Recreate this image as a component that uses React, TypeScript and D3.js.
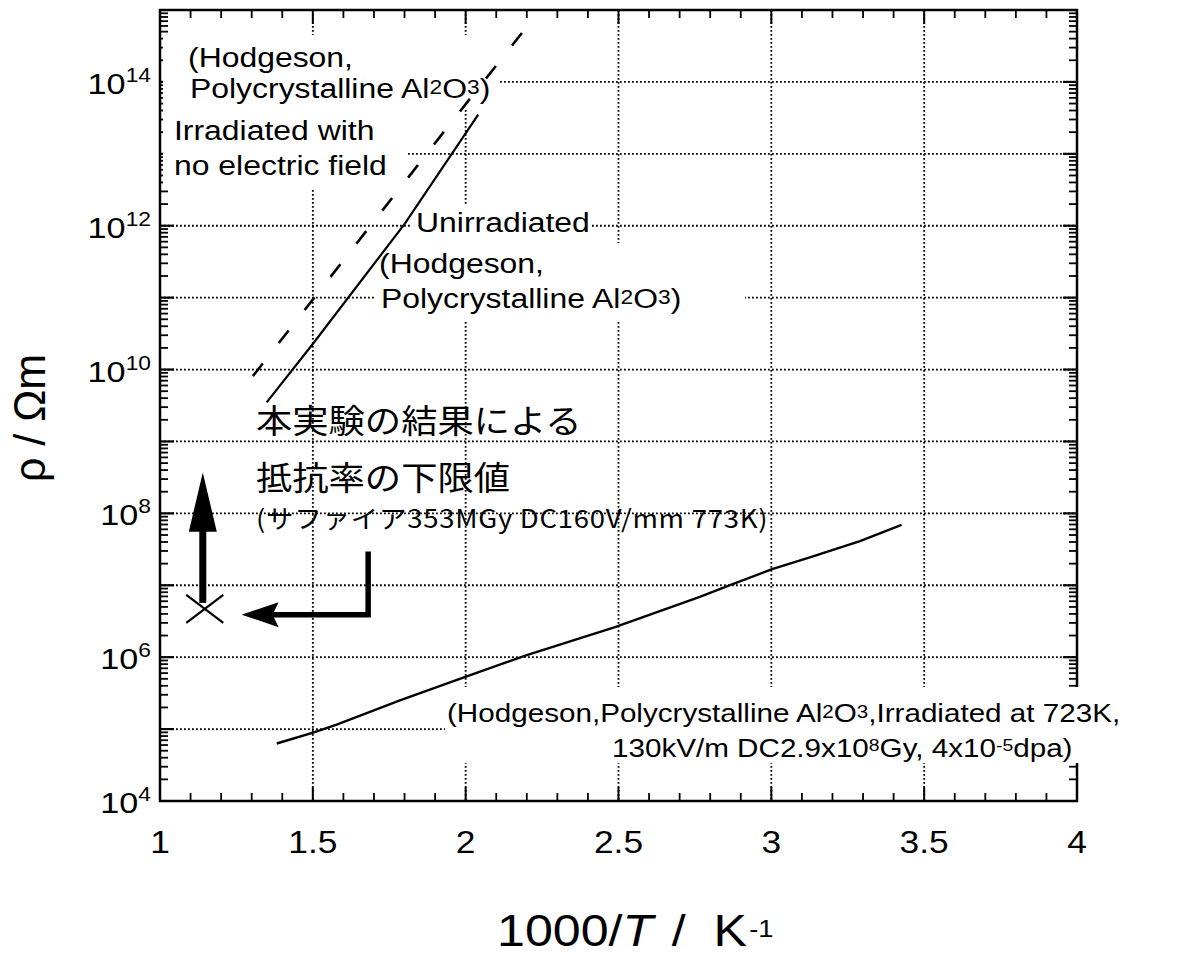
import React from 'react';
import * as d3 from 'd3';

const W = 1196;
const H = 957;

// axes
const X_DOMAIN: [number, number] = [1, 4];
const Y_DOMAIN: [number, number] = [1e4, 1e15];
const xTickValues = [1, 1.5, 2, 2.5, 3, 3.5, 4];
const xTickLabels = ['1', '1.5', '2', '2.5', '3', '3.5', '4'];
const yTickExponents = [4, 6, 8, 10, 12, 14];
const gridX = [1.5, 2, 2.5, 3, 3.5];
const gridYExponents = [5, 6, 7, 8, 9, 10, 11, 12, 13, 14];

// series: Hodgeson, polycrystalline Al2O3, irradiated with no electric field (dashed)
const irradNoFieldX = [1.304, 1.939, 2.235];
const irradNoFieldRho = [8.1e9, 2.3e13, 9.0e14];
// series: unirradiated
const unirradX = [1.349, 1.501, 1.801, 2.041];
const unirradRho = [3.5e9, 2.3e10, 1.07e12, 3.5e13];
// series: irradiated at 723K, 130kV/m
const irrad723X = [1.382, 1.501, 1.578, 1.785, 1.992, 2.2, 2.486, 2.766, 2.85, 3.0, 3.126, 3.29, 3.426];
const irrad723Rho = [6.3e4, 8.9e4, 1.15e5, 2.5e5, 5.2e5, 1.07e6, 2.6e6, 6.9e6, 9.5e6, 1.66e7, 2.45e7, 4.1e7, 6.9e7];
// this experiment: lower limit of resistivity
const lowerLimitX = [1.14];
const lowerLimitRho = [4.7e6];
const lowerArrowTipRho = [3.7e8];
const lowerArrowBaseRho = [5.9e7];
const pointerX = [1.681, 1.267];
const pointerRho = [3.9e6, 2.95e7];

const FONT = '"Liberation Sans", Arial, Helvetica, sans-serif';
const JFONT = '"Noto Sans CJK JP", "Noto Sans CJK SC", sans-serif';
const SX = 1.14;

const left = 160, right = 1077, top = 10, bottom = 801;

const T: React.FC<{ x: number; y: number; size: number; anchor?: string; sx?: number; children: React.ReactNode; family?: string; textLength?: number }> = ({ x, y, size, anchor = 'start', sx = SX, children, family = FONT, textLength }) => (
  <text
    transform={`translate(${x},${y}) scale(${sx},1)`}
    fontSize={size}
    fontFamily={family}
    textAnchor={anchor}
    fill="#000"
    textLength={textLength}
    lengthAdjust={textLength ? 'spacing' : undefined}
    style={{ whiteSpace: 'pre' }}
  >
    {children}
  </text>
);

export default function App() {
  const x = d3.scaleLinear().domain(X_DOMAIN).range([left, right]);
  const y = d3.scaleLog().domain(Y_DOMAIN).range([bottom, top]);

  const line = d3
    .line<[number, number]>()
    .x((d) => x(d[0]))
    .y((d) => y(d[1]));

  const ptsNoField = irradNoFieldX.map((v, i) => [v, irradNoFieldRho[i]] as [number, number]);
  const ptsUnirr = unirradX.map((v, i) => [v, unirradRho[i]] as [number, number]);
  const pts723 = irrad723X.map((v, i) => [v, irrad723Rho[i]] as [number, number]);

  const xMinor = d3.range(11, 40).map((v) => v / 10).filter((v) => Math.abs(v * 2 - Math.round(v * 2)) > 1e-6);
  const yMinor: number[] = [];
  for (let n = 4; n < 15; n++) for (let k = 2; k <= 9; k++) yMinor.push(k * Math.pow(10, n));
  const yMajor = d3.range(5, 15).map((n) => Math.pow(10, n));
  const xMajor = [1.5, 2, 2.5, 3, 3.5];

  const minorLen = 8;
  const majorLen = 14;

  // annotation geometry
  const ax = x(lowerLimitX[0]);
  const ayBottom = y(lowerLimitRho[0]) - 6;
  const ayTip = y(lowerArrowTipRho[0]);
  const ayBase = y(lowerArrowBaseRho[0]);
  const px0 = x(pointerX[0]);
  const px1 = x(pointerX[1]);
  const py = y(pointerRho[0]);
  const pyTop = y(pointerRho[1]);
  const mx = x(lowerLimitX[0]) + 2;
  const my = y(lowerLimitRho[0]);

  return (
    <svg width={W} height={H} style={{ position: 'absolute', left: 0, top: 0, background: '#fff' }}>
      <rect x={0} y={0} width={W} height={H} fill="#fff" />

      {/* grid */}
      <g stroke="#000" strokeWidth={1.8} strokeDasharray="1.8,2.2" fill="none">
        {gridX.map((v) => (
          <line key={'gx' + v} x1={x(v)} x2={x(v)} y1={top} y2={bottom} />
        ))}
        {gridYExponents.map((n) => (
          <line key={'gy' + n} x1={left} x2={right} y1={y(Math.pow(10, n))} y2={y(Math.pow(10, n))} />
        ))}
      </g>

      {/* frame and ticks */}
      <g stroke="#000" fill="none">
        <rect x={left} y={top} width={right - left} height={bottom - top} strokeWidth={2.5} />
        {xMinor.map((v) => (
          <g key={'xm' + v} strokeWidth={1.8}>
            <line x1={x(v)} x2={x(v)} y1={bottom} y2={bottom - minorLen} />
            <line x1={x(v)} x2={x(v)} y1={top} y2={top + minorLen} />
          </g>
        ))}
        {xMajor.map((v) => (
          <g key={'xM' + v} strokeWidth={2}>
            <line x1={x(v)} x2={x(v)} y1={bottom} y2={bottom - majorLen} />
            <line x1={x(v)} x2={x(v)} y1={top} y2={top + majorLen} />
          </g>
        ))}
        {yMinor.map((v) => (
          <g key={'ym' + v} strokeWidth={1.8}>
            <line x1={left} x2={left + minorLen} y1={y(v)} y2={y(v)} />
            <line x1={right} x2={right - minorLen} y1={y(v)} y2={y(v)} />
          </g>
        ))}
        {yMajor.map((v) => (
          <g key={'yM' + v} strokeWidth={2.2}>
            <line x1={left} x2={left + majorLen} y1={y(v)} y2={y(v)} />
            <line x1={right} x2={right - majorLen} y1={y(v)} y2={y(v)} />
          </g>
        ))}
      </g>

      {/* white label backgrounds */}
      <g fill="#fff">
        <rect x={163} y={35} width={337} height={73} />
        <rect x={163} y={108} width={245} height={82} />
        <rect x={410} y={205} width={180} height={38} />
        <rect x={375} y={243} width={370} height={79} />
        <rect x={445} y={687} width={680} height={76} />
      </g>

      {/* data lines */}
      <path d={line(ptsNoField) || ''} fill="none" stroke="#000" strokeWidth={2.6} strokeDasharray="16,26" />
      <path d={line(ptsUnirr) || ''} fill="none" stroke="#000" strokeWidth={2.2} />
      <path d={line(pts723) || ''} fill="none" stroke="#000" strokeWidth={2.4} />

      {/* lower-limit marker and arrows */}
      <g stroke="#000" strokeWidth={2.2}>
        <line x1={mx - 18.5} y1={my - 14} x2={mx + 18.5} y2={my + 14} />
        <line x1={mx - 18.5} y1={my + 14} x2={mx + 18.5} y2={my - 14} />
      </g>
      <line x1={ax} x2={ax} y1={ayBottom} y2={ayBase} stroke="#000" strokeWidth={7} />
      <path d={`M${ax},${ayTip} L${ax - 14},${ayBase + 2} L${ax + 14},${ayBase + 2} Z`} fill="#000" />
      <polyline points={`${px0},${pyTop} ${px0},${py} ${px1 + 30},${py}`} fill="none" stroke="#000" strokeWidth={5.5} />
      <path d={`M${px1},${py} L${px1 + 37},${py - 12.5} L${px1 + 31},${py} L${px1 + 37},${py + 12.5} Z`} fill="#000" />

      {/* x tick labels */}
      {xTickValues.map((v, i) => (
        <T key={'xl' + v} x={x(v)} y={853} size={31} anchor="middle">
          {xTickLabels[i]}
        </T>
      ))}
      {/* y tick labels */}
      {yTickExponents.map((n) => (
        <T key={'yl' + n} x={151} y={y(Math.pow(10, n)) + 12} size={30} anchor="end">
          10<tspan fontSize={20} dy={-12}>{n}</tspan>
        </T>
      ))}

      {/* axis titles */}
      <T x={497} y={946} size={44}>
        1000/<tspan fontStyle="italic">T</tspan>
        <tspan dx={4}>{' /  K'}</tspan>
        <tspan fontSize={24} dy={-9} dx={2}>-1</tspan>
      </T>
      <text
        transform="translate(45,418) rotate(-90) scale(1,1.05)"
        fontSize={43}
        fontFamily={FONT}
        textAnchor="middle"
        style={{ whiteSpace: 'pre' }}
      >
        ρ / Ωm
      </text>

      {/* annotations */}
      <T x={188} y={67} size={28}>(Hodgeson,</T>
      <T x={190} y={98} size={28}>
        Polycrystalline Al<tspan fontSize={20} dy={-4}>2</tspan>
        <tspan dy={4}>O</tspan>
        <tspan fontSize={20} dy={-4}>3</tspan>
        <tspan dy={4}>)</tspan>
      </T>
      <T x={174} y={140} size={28}>Irradiated with</T>
      <T x={174} y={175} size={28}>no electric field</T>

      <T x={416} y={232} size={28}>Unirradiated</T>
      <T x={379} y={273} size={28}>(Hodgeson,</T>
      <T x={381} y={308} size={28}>
        Polycrystalline Al<tspan fontSize={20} dy={-4}>2</tspan>
        <tspan dy={4}>O</tspan>
        <tspan fontSize={20} dy={-4}>3</tspan>
        <tspan dy={4}>)</tspan>
      </T>

      <T x={447} y={722} size={26}>
        (Hodgeson,Polycrystalline Al<tspan fontSize={18} dy={-4}>2</tspan>
        <tspan dy={4}>O</tspan>
        <tspan fontSize={18} dy={-4}>3</tspan>
        <tspan dy={4}>,Irradiated at 723K,</tspan>
      </T>
      <T x={612} y={757} size={26}>
        130kV/m DC2.9x10<tspan fontSize={17} dy={-6}>8</tspan>
        <tspan dy={6}>Gy, 4x10</tspan>
        <tspan fontSize={17} dy={-6}>-5</tspan>
        <tspan dy={6}>dpa)</tspan>
      </T>

      <T x={256} y={433} size={33} sx={1.1} family={JFONT}>本実験の結果による</T>
      <T x={256} y={490} size={33} sx={1.1} family={JFONT}>抵抗率の下限値</T>
      <T x={256} y={528} size={25} sx={1.1} family={JFONT} textLength={465}>(サファイア353MGy DC160V/mm 773K)</T>
    </svg>
  );
}
